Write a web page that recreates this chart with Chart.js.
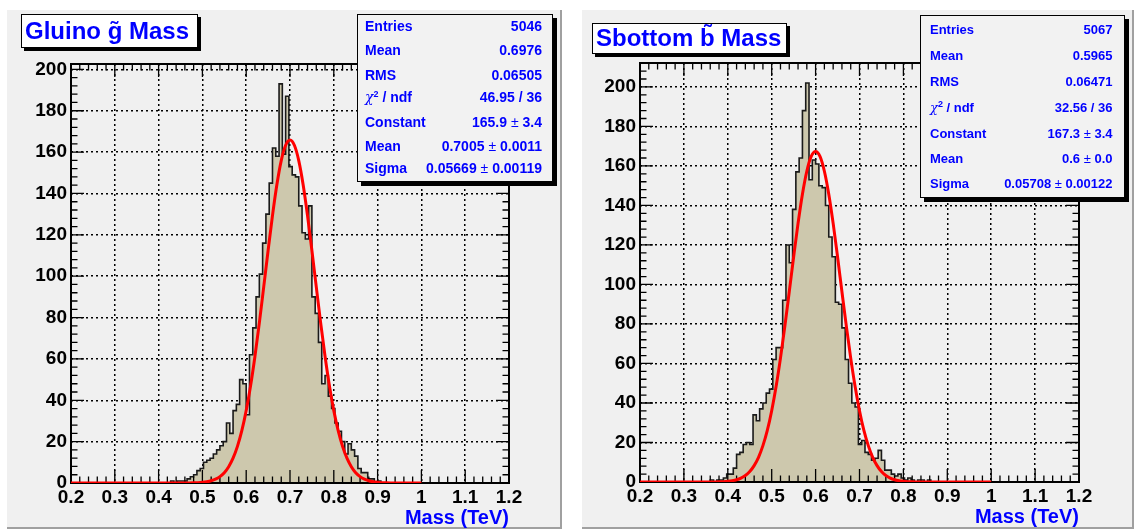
<!DOCTYPE html>
<html>
<head>
<meta charset="utf-8">
<title>Gluino and Sbottom mass</title>
<script src="https://cdn.jsdelivr.net/npm/chart.js@4.4.1/dist/chart.umd.min.js"></script>
<style>
  body { margin:0; width:1134px; height:532px; position:relative; overflow:hidden; background:#fff;
         font-family:"Liberation Sans", Arial, Helvetica, sans-serif; }
  .pad { position:absolute; background:#f0f0f0; border-right:2px solid #a0a0a0; border-bottom:2px solid #a0a0a0; box-sizing:border-box; }
  canvas { position:absolute; top:0; }
  .title { position:absolute; background:#fff; border:1.5px solid #000; box-shadow:3px 3px 0 #000; color:#00f;
           font-weight:bold; font-size:24px; box-sizing:border-box; white-space:nowrap; padding-left:3px; }
  .stats { position:absolute; background:#f2f2f2; border:1.5px solid #000; box-shadow:4px 4px 0 #000; color:#00f;
           font-weight:bold; box-sizing:border-box; }
  .row { position:absolute; display:flex; justify-content:space-between; height:16px; line-height:16px; white-space:nowrap; }
  .chi { font-family:"DejaVu Serif", serif; font-weight:normal; font-style:italic; }
  .sq { font-size:9px; position:relative; top:-5px; line-height:0; }
  .pm { font-weight:normal; }
  .xtitle { position:absolute; color:#00f; font-weight:bold; font-size:20px; line-height:24px; white-space:nowrap; }
</style>
</head>
<body>
<div class="pad" style="left:7px; top:10px; width:555px; height:519px;"></div>
<div class="pad" style="left:582px; top:10px; width:552px; height:519px;"></div>

<canvas id="gluino" width="567" height="532" style="left:0"></canvas>
<canvas id="sbottom" width="567" height="532" style="left:567px"></canvas>

<div class="title" style="left:21px; top:14px; width:177px; height:34px; line-height:31px;">Gluino g&#771; Mass</div>
<div class="title" style="left:592px; top:23px; width:195px; height:31px; line-height:28px;">Sbottom b&#771; Mass</div>

<div class="stats" style="left:357px; top:14px; width:196px; height:168px; font-size:14px;">
  <div class="row" style="left:7px; right:10px; top:2.5px;"><span>Entries</span><span>5046</span></div>
  <div class="row" style="left:7px; right:10px; top:26.5px;"><span>Mean</span><span>0.6976</span></div>
  <div class="row" style="left:7px; right:10px; top:51.5px;"><span>RMS</span><span>0.06505</span></div>
  <div class="row" style="left:7px; right:10px; top:73.5px;"><span><span class="chi">χ</span><span class="sq">2</span> / ndf</span><span>46.95 / 36</span></div>
  <div class="row" style="left:7px; right:10px; top:98.5px;"><span>Constant</span><span>165.9 <span class="pm">±</span> 3.4</span></div>
  <div class="row" style="left:7px; right:10px; top:122.5px;"><span>Mean</span><span>0.7005 <span class="pm">±</span> 0.0011</span></div>
  <div class="row" style="left:7px; right:10px; top:144.5px;"><span>Sigma</span><span>0.05669 <span class="pm">±</span> 0.00119</span></div>
</div>

<div class="stats" style="left:920px; top:15px; width:205px; height:183px; font-size:13px;">
  <div class="row" style="left:9px; right:11.5px; top:6.2px;"><span>Entries</span><span>5067</span></div>
  <div class="row" style="left:9px; right:11.5px; top:32.2px;"><span>Mean</span><span>0.5965</span></div>
  <div class="row" style="left:9px; right:11.5px; top:57.8px;"><span>RMS</span><span>0.06471</span></div>
  <div class="row" style="left:9px; right:11.5px; top:83.8px;"><span><span class="chi">χ</span><span class="sq">2</span> / ndf</span><span>32.56 / 36</span></div>
  <div class="row" style="left:9px; right:11.5px; top:109.5px;"><span>Constant</span><span>167.3 <span class="pm">±</span> 3.4</span></div>
  <div class="row" style="left:9px; right:11.5px; top:134.8px;"><span>Mean</span><span>0.6 <span class="pm">±</span> 0.0</span></div>
  <div class="row" style="left:9px; right:11.5px; top:159.8px;"><span>Sigma</span><span>0.05708 <span class="pm">±</span> 0.00122</span></div>
</div>

<div class="xtitle" style="right:625px; top:505px;">Mass (TeV)</div>
<div class="xtitle" style="right:55px; top:504px;">Mass (TeV)</div>

<script>
// histogram binning (bins of 0.0075 starting at 0)
const binWidth = 0.0075;

// gluino: counts for bins 56.. (first edge 0.42)
const gluinoFirstBin = 56;
const gluinoCounts = [
  0, 0, 1, 0, 1, 1, 1, 2, 3, 4,
  6, 7, 10, 11, 12, 14, 16, 18, 20, 29,
  24, 35, 38, 50, 48, 33, 62, 75, 90, 101,
  116, 130, 145, 162, 158, 193, 159, 187, 153, 149,
  148, 134, 121, 118, 134, 90, 82, 68, 48, 52,
  42, 36, 29, 25, 20, 14, 19, 16, 13, 7,
  5, 5, 2, 2, 0, 1
];

// sbottom: counts for bins 48.. (first edge 0.36)
const sbottomFirstBin = 48;
const sbottomCounts = [
  0, 1, 0, 1, 1, 2, 4, 4, 7, 14,
  15, 19, 20, 19, 34, 31, 37, 40, 45, 47,
  62, 68, 68, 92, 120, 111, 138, 157, 164, 188,
  202, 153, 163, 161, 150, 149, 140, 124, 114, 91,
  90, 78, 62, 50, 40, 38, 19, 21, 15, 14,
  11, 12, 16, 11, 6, 6, 4, 3, 4, 2,
  1, 2, 1, 0, 1, 1, 0, 1
];

// gaussian fit curves, read at 0.01 steps from 0.20 to 1.00
const fitX = [
  0.20, 0.21, 0.22, 0.23, 0.24, 0.25, 0.26, 0.27, 0.28, 0.29,
  0.30, 0.31, 0.32, 0.33, 0.34, 0.35, 0.36, 0.37, 0.38, 0.39,
  0.40, 0.41, 0.42, 0.43, 0.44, 0.45, 0.46, 0.47, 0.48, 0.49,
  0.50, 0.51, 0.52, 0.53, 0.54, 0.55, 0.56, 0.57, 0.58, 0.59,
  0.60, 0.61, 0.62, 0.63, 0.64, 0.65, 0.66, 0.67, 0.68, 0.69,
  0.70, 0.71, 0.72, 0.73, 0.74, 0.75, 0.76, 0.77, 0.78, 0.79,
  0.80, 0.81, 0.82, 0.83, 0.84, 0.85, 0.86, 0.87, 0.88, 0.89,
  0.90, 0.91, 0.92, 0.93, 0.94, 0.95, 0.96, 0.97, 0.98, 0.99,
  1.00
];
const gluinoFit = [
  0, 0, 0, 0, 0, 0, 0, 0, 0, 0,
  0, 0, 0, 0, 0, 0, 0, 0, 0, 0,
  0, 0, 0, 0, 0, 0.01, 0.02, 0.04, 0.09, 0.17,
  0.33, 0.6, 1.07, 1.85, 3.1, 5.0, 7.9, 12.0, 17.7, 25.3,
  35.0, 47.0, 61.3, 77.4, 94.8, 112.4, 129.3, 144.2, 155.9, 163.3,
  165.9, 163.3, 155.9, 144.2, 129.3, 112.4, 94.8, 77.4, 61.3, 47.0,
  35.0, 25.3, 17.7, 12.0, 7.9, 5.0, 3.1, 1.85, 1.07, 0.6,
  0.33, 0.17, 0.09, 0.04, 0.02, 0.01, 0, 0, 0, 0,
  0
];
const sbottomFit = [
  0, 0, 0, 0, 0, 0, 0, 0, 0, 0,
  0, 0, 0, 0, 0, 0, 0.02, 0.05, 0.1, 0.19,
  0.36, 0.66, 1.16, 2.0, 3.3, 5.3, 8.3, 12.5, 18.4, 26.1,
  36.1, 48.3, 62.7, 78.9, 96.3, 114.0, 130.9, 145.7, 157.3, 164.8,
  167.3, 164.8, 157.3, 145.7, 130.9, 114.0, 96.3, 78.9, 62.7, 48.3,
  36.1, 26.1, 18.4, 12.5, 8.3, 5.3, 3.3, 2.0, 1.16, 0.66,
  0.36, 0.19, 0.1, 0.05, 0.02, 0, 0, 0, 0, 0,
  0, 0, 0, 0, 0, 0, 0, 0, 0, 0,
  0
];

const HIST_FILL = "rgb(205,200,173)";
const tickFont = { family: "Liberation Sans", weight: "bold", size: 19 };

// ROOT style frame: inner ticks on all four sides, drawn over the histogram but under the fit
const frameTicks = {
  id: "frameTicks",
  afterDatasetDraw(chart, args) {
    if (chart.data.datasets[args.index].label !== "hist") return;
    const { ctx, chartArea: a } = chart;
    const xs = chart.scales.x, ys = chart.scales.y;
    ctx.save();
    ctx.strokeStyle = "#000";
    ctx.lineWidth = 1.3;
    ctx.beginPath();
    for (let i = 0; i <= 50; i++) {
      const px = xs.getPixelForValue(0.2 + i * 0.02);
      const len = i % 5 === 0 ? 13 : 6.5;
      ctx.moveTo(px, a.bottom); ctx.lineTo(px, a.bottom - len);
      ctx.moveTo(px, a.top); ctx.lineTo(px, a.top + len);
    }
    for (let i = 0; i * 4 <= ys.max; i++) {
      const py = ys.getPixelForValue(i * 4);
      const len = i % 5 === 0 ? 13 : 6.5;
      ctx.moveTo(a.left, py); ctx.lineTo(a.left + len, py);
      ctx.moveTo(a.right, py); ctx.lineTo(a.right - len, py);
    }
    ctx.stroke();
    ctx.lineWidth = 2;
    ctx.strokeRect(a.left, a.top, a.right - a.left, a.bottom - a.top);
    ctx.restore();
  }
};

function histPoints(counts, firstBin) {
  const pts = [{ x: firstBin * binWidth, y: 0 }];
  counts.forEach((c, i) => pts.push({ x: (firstBin + i) * binWidth, y: c }));
  pts.push({ x: (firstBin + counts.length) * binWidth, y: 0 });
  return pts;
}

function drawPanel(id, counts, firstBin, fitY, yMax, geom) {
  new Chart(document.getElementById(id), {
    type: "line",
    data: {
      datasets: [
        {
          label: "fit",
          order: 0,
          data: fitX.map((x, i) => ({ x, y: fitY[i] })),
          borderColor: "#ff0000",
          borderWidth: 3,
          pointRadius: 0,
          cubicInterpolationMode: "monotone",
          fill: false
        },
        {
          label: "hist",
          order: 1,
          data: histPoints(counts, firstBin),
          stepped: "after",
          borderColor: "#1a1a1a",
          borderWidth: 1.6,
          backgroundColor: HIST_FILL,
          pointRadius: 0,
          fill: "origin"
        }
      ]
    },
    options: {
      responsive: false,
      animation: false,
      layout: { padding: { left: 0, right: geom.padRight, top: geom.top, bottom: 0 } },
      plugins: { legend: { display: false }, tooltip: { enabled: false } },
      scales: {
        x: {
          type: "linear", min: 0.2, max: 1.2,
          afterFit: s => { s.height = geom.xAxisHeight; },
          ticks: {
            stepSize: 0.1, autoSkip: false, maxRotation: 0, padding: 3,
            color: "#000", font: tickFont,
            callback: v => String(Math.round(v * 10) / 10)
          },
          grid: { color: "#000", lineWidth: 1.5, drawTicks: false },
          border: { display: false, dash: [2, 3] }
        },
        y: {
          type: "linear", min: 0, max: yMax,
          afterFit: s => { s.width = geom.yAxisWidth; },
          ticks: { stepSize: 20, includeBounds: false, padding: 4, color: "#000", font: tickFont },
          grid: { color: "#000", lineWidth: 1.5, drawTicks: false },
          border: { display: false, dash: [2, 3] }
        }
      }
    },
    plugins: [frameTicks]
  });
}

drawPanel("gluino", gluinoCounts, gluinoFirstBin, gluinoFit, 202.6,
  { yAxisWidth: 71, padRight: 58, top: 64, xAxisHeight: 49 });
drawPanel("sbottom", sbottomCounts, sbottomFirstBin, sbottomFit, 212.1,
  { yAxisWidth: 73, padRight: 55, top: 63, xAxisHeight: 50 });
</script>
</body>
</html>
